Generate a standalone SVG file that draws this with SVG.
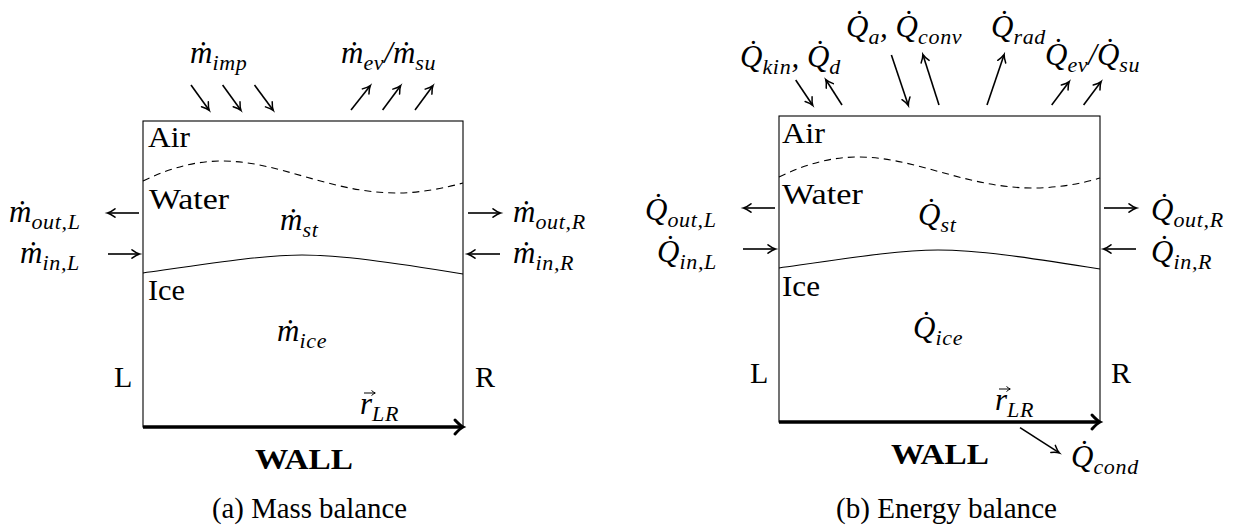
<svg xmlns="http://www.w3.org/2000/svg" width="1245" height="529" viewBox="0 0 1245 529">
<style>
.t{font-family:'Liberation Serif','Times New Roman',serif;font-size:30px;fill:#000}
.i{font-style:italic;font-size:31px}
.s{font-size:22px;letter-spacing:0.7px}
.b{font-weight:bold}
.box{fill:none;stroke:#000;stroke-width:1.1}
.dash{fill:none;stroke:#000;stroke-width:1.1;stroke-dasharray:7 5}
.ice{fill:none;stroke:#000;stroke-width:1.1}
.ar{fill:none;stroke:#000;stroke-width:1.6;marker-end:url(#ah)}
.vec{fill:none;stroke:#000;stroke-width:1;marker-end:url(#vh)}
.wall{fill:none;stroke:#000;stroke-width:3.6;marker-end:url(#wh)}
</style>
<defs>
<marker id="ah" markerUnits="userSpaceOnUse" markerWidth="20" markerHeight="20" refX="0" refY="0" viewBox="-10 -10 20 20" orient="auto" overflow="visible">
<path d="M-7,-4.2 Q-2.5,-0.8 0.5,0 Q-2.5,0.8 -7,4.2" fill="none" stroke="#000" stroke-width="1.5" stroke-linecap="round"/>
</marker>
<marker id="vh" markerUnits="userSpaceOnUse" markerWidth="10" markerHeight="10" refX="0" refY="0" viewBox="-5 -5 10 10" orient="auto" overflow="visible">
<path d="M-3.5,-2.5 Q-1,-0.5 0.3,0 Q-1,0.5 -3.5,2.5" fill="none" stroke="#000" stroke-width="1"/>
</marker>
<marker id="wh" markerUnits="userSpaceOnUse" markerWidth="24" markerHeight="24" refX="0" refY="0" viewBox="-12 -12 24 24" orient="auto" overflow="visible">
<path d="M-7,-7 Q-2,-1.5 1,0 Q-2,1.5 -7,7" fill="none" stroke="#000" stroke-width="3" stroke-linecap="round"/>
</marker>
</defs>

<g id="panel-a">
<g id="a-box"><rect class="box" x="143" y="121" width="320" height="306" stroke="#444"/></g>
<g id="a-air-water"><path class="dash" d="M143,181 C170,168 195,161 222,161 C280,161 330,193 397,193 C420,193 445,188 463,183"/></g>
<g id="a-water-ice"><path class="ice" d="M143,273 C220,262 265,255 302,255 C340,255 390,262 463,274"/></g>
<g id="a-air"><text class="t" x="148" y="147" textLength="42" lengthAdjust="spacingAndGlyphs">Air</text></g>
<g id="a-water"><text class="t" x="149" y="209" textLength="80" lengthAdjust="spacingAndGlyphs">Water</text></g>
<g id="a-ice"><text class="t" x="148" y="300" textLength="37" lengthAdjust="spacingAndGlyphs">Ice</text></g>
<g id="a-L"><text class="t" x="114" y="387">L</text></g>
<g id="a-R"><text class="t" x="475" y="387">R</text></g>
<g id="a-wall"><text class="t b" x="255" y="469" textLength="98" lengthAdjust="spacingAndGlyphs">WALL</text></g>
<g id="a-caption"><text class="t" x="212" y="518" textLength="195" lengthAdjust="spacingAndGlyphs">(a) Mass balance</text></g>
<g id="a-mimp"><text class="t i" x="190" y="63">ṁ<tspan class="s" dy="7">imp</tspan></text></g>
<g id="a-mev"><text class="t i" x="341" y="63">ṁ<tspan class="s" dy="7">ev</tspan><tspan dy="-7">/ṁ</tspan><tspan class="s" dy="7">su</tspan></text></g>
<g id="a-moutL"><text class="t i" x="9" y="222">ṁ<tspan class="s" dy="7">out,L</tspan></text></g>
<g id="a-minL"><text class="t i" x="20" y="263">ṁ<tspan class="s" dy="7">in,L</tspan></text></g>
<g id="a-moutR"><text class="t i" x="513" y="222">ṁ<tspan class="s" dy="7">out,R</tspan></text></g>
<g id="a-minR"><text class="t i" x="513" y="263">ṁ<tspan class="s" dy="7">in,R</tspan></text></g>
<g id="a-mst"><text class="t i" x="280" y="230">ṁ<tspan class="s" dy="7">st</tspan></text></g>
<g id="a-mice"><text class="t i" x="277" y="341">ṁ<tspan class="s" dy="7">ice</tspan></text></g>
<g id="a-rLR"><text class="t i" x="360" y="414">r<tspan class="s" dy="7">LR</tspan></text><path class="vec" d="M364,393 L375,393"/></g>
</g>

<g id="panel-b">
<g id="b-box"><rect class="box" x="779" y="116" width="321" height="306"/></g>
<g id="b-air-water"><path class="dash" d="M779,177 C806,164 831,157 858,157 C916,157 966,188 1033,188 C1056,188 1081,184 1100,178"/></g>
<g id="b-water-ice"><path class="ice" d="M779,268 C856,257 901,250 938,250 C976,250 1026,257 1100,269"/></g>
<g id="b-air"><text class="t" x="782" y="143" textLength="43" lengthAdjust="spacingAndGlyphs">Air</text></g>
<g id="b-water"><text class="t" x="782" y="204" textLength="81" lengthAdjust="spacingAndGlyphs">Water</text></g>
<g id="b-ice"><text class="t" x="782" y="296" textLength="38" lengthAdjust="spacingAndGlyphs">Ice</text></g>
<g id="b-L"><text class="t" x="750" y="383">L</text></g>
<g id="b-R"><text class="t" x="1111" y="383">R</text></g>
<g id="b-wall"><text class="t b" x="891" y="464" textLength="98" lengthAdjust="spacingAndGlyphs">WALL</text></g>
<g id="b-caption"><text class="t" x="836" y="518" textLength="221" lengthAdjust="spacingAndGlyphs">(b) Energy balance</text></g>
<g id="b-qkin"><text class="t i" x="740" y="67">Q̇<tspan class="s" dy="7">kin</tspan><tspan dy="-7">, Q̇</tspan><tspan class="s" dy="7">d</tspan></text></g>
<g id="b-qa"><text class="t i" x="846" y="37">Q̇<tspan class="s" dy="7">a</tspan><tspan dy="-7">, Q̇</tspan><tspan class="s" dy="7">conv</tspan></text></g>
<g id="b-qrad"><text class="t i" x="991" y="37">Q̇<tspan class="s" dy="7">rad</tspan></text></g>
<g id="b-qev"><text class="t i" x="1045" y="65">Q̇<tspan class="s" dy="7">ev</tspan><tspan dy="-7">/Q̇</tspan><tspan class="s" dy="7">su</tspan></text></g>
<g id="b-qoutL"><text class="t i" x="645" y="220">Q̇<tspan class="s" dy="7">out,L</tspan></text></g>
<g id="b-qinL"><text class="t i" x="657" y="262">Q̇<tspan class="s" dy="7">in,L</tspan></text></g>
<g id="b-qoutR"><text class="t i" x="1151" y="220">Q̇<tspan class="s" dy="7">out,R</tspan></text></g>
<g id="b-qinR"><text class="t i" x="1151" y="262">Q̇<tspan class="s" dy="7">in,R</tspan></text></g>
<g id="b-qst"><text class="t i" x="918" y="225">Q̇<tspan class="s" dy="7">st</tspan></text></g>
<g id="b-qice"><text class="t i" x="913" y="338">Q̇<tspan class="s" dy="7">ice</tspan></text></g>
<g id="b-rLR"><text class="t i" x="995" y="410">r<tspan class="s" dy="7">LR</tspan></text><path class="vec" d="M999,389 L1010,389"/></g>
<g id="b-qcond"><text class="t i" x="1071" y="467">Q̇<tspan class="s" dy="7">cond</tspan></text></g>
</g>

<g id="connectors">
<path class="ar" d="M191,85 L209,110"/>
<path class="ar" d="M222.6,85 L240.7,110"/>
<path class="ar" d="M254.5,85 L273,110"/>
<path class="ar" d="M351,110 L370,86"/>
<path class="ar" d="M382.6,110 L400.4,86"/>
<path class="ar" d="M415,110 L432.7,86"/>
<path class="ar" d="M139,213 L108,213"/>
<path class="ar" d="M108,254 L139,254"/>
<path class="ar" d="M468,213 L500,213"/>
<path class="ar" d="M500,254 L468,254"/>
<path class="wall" d="M143,427 L462,427"/>

<path class="ar" d="M795.7,80 L812.5,105"/>
<path class="ar" d="M842,105 L826,80"/>
<path class="ar" d="M891.4,55 L908.2,105"/>
<path class="ar" d="M939,105 L923,55"/>
<path class="ar" d="M987,105 L1004,55"/>
<path class="ar" d="M1051.7,105 L1068.9,82"/>
<path class="ar" d="M1083.6,105 L1100.8,82"/>
<path class="ar" d="M775,208 L744,208"/>
<path class="ar" d="M743,249 L775,249"/>
<path class="ar" d="M1104,208 L1136,208"/>
<path class="ar" d="M1136,249 L1104,249"/>
<path class="wall" d="M779,422 L1099,422"/>
<path class="ar" d="M1020,427.7 L1059,452.7"/>
</g>
</svg>
